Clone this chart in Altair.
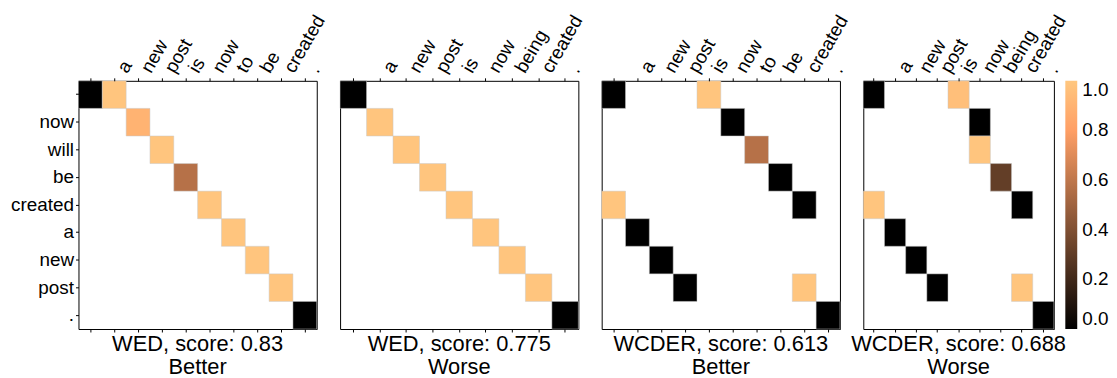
import altair as alt
import pandas as pd

# Tokens
ROWS = ["", "now", "will", "be", "created", "a", "new", "post", "."]
COLS_TO = ["", "a", "new", "post", "is", "now", "to", "be", "created", "."]
COLS_BEING = ["", "a", "new", "post", "is", "now", "being", "created", "."]

# Panel 1: WED, better
P1_R = [0, 0, 1, 2, 3, 4, 5, 6, 7, 8]
P1_C = [0, 1, 2, 3, 4, 5, 6, 7, 8, 9]
P1_V = [0.0, 0.99, 0.90, 0.99, 0.57, 0.99, 0.99, 0.99, 0.99, 0.0]

# Panel 2: WED, worse
P2_R = [0, 1, 2, 3, 4, 5, 6, 7, 8]
P2_C = [0, 1, 2, 3, 4, 5, 6, 7, 8]
P2_V = [0.0, 0.99, 0.99, 0.99, 0.99, 0.99, 0.99, 0.99, 0.0]

# Panel 3: WCDER, better
P3_R = [0, 0, 1, 2, 3, 4, 4, 5, 6, 7, 7, 8]
P3_C = [0, 4, 5, 6, 7, 8, 0, 1, 2, 3, 8, 9]
P3_V = [0.0, 0.99, 0.0, 0.57, 0.0, 0.0, 0.99, 0.0, 0.0, 0.0, 0.99, 0.0]

# Panel 4: WCDER, worse
P4_R = [0, 0, 1, 2, 3, 4, 4, 5, 6, 7, 7, 8]
P4_C = [0, 4, 5, 5, 6, 7, 0, 1, 2, 3, 7, 8]
P4_V = [0.0, 0.96, 0.0, 0.99, 0.31, 0.0, 0.99, 0.0, 0.0, 0.0, 0.99, 0.0]

TITLES = [
    ["WED, score: 0.83", "Better"],
    ["WED, score: 0.775", "Worse"],
    ["WCDER, score: 0.613", "Better"],
    ["WCDER, score: 0.688", "Worse"],
]

LEGEND_VALUES = [0.0, 0.2, 0.4, 0.6, 0.8, 1.0]

FONT = "Liberation Sans"

cscale = alt.Scale(domain=[0, 0.8, 1], range=["#000000", "#ff9f65", "#ffc77f"], interpolate="rgb")
legend = alt.Legend(
    orient="none", legendX=994, legendY=0, values=LEGEND_VALUES, format=".1f",
    gradientLength=250, gradientThickness=12, labelFontSize=19, labelColor="black",
    labelBaseline="middle", labelOffset=5, title=None, direction="vertical",
    labelFont=FONT,
)


def panel(ri, ci, vals, cols, title, width, show_y):
    df = pd.DataFrame({
        "row": [ROWS[i] for i in ri],
        "col": [cols[j] for j in ci],
        "v": vals,
    })
    xs = alt.Scale(domain=cols, paddingInner=0, paddingOuter=0)
    ys = alt.Scale(domain=ROWS, paddingInner=0, paddingOuter=0)
    if show_y:
        yaxis = alt.Axis(orient="left", labelFontSize=19, tickSize=3, tickColor="black",
                         labelColor="black", domain=False, title=None, labelPadding=2,
                         labelOverlap=False, labelFont=FONT)
    else:
        yaxis = None
    top = alt.Chart(df).mark_rect(stroke="#c8c8c8", strokeWidth=0.5).encode(
        x=alt.X("col:N", scale=xs, axis=alt.Axis(
            orient="top", labelAngle=300, labelAlign="left", labelBaseline="alphabetic",
            labelOffset=13, labelPadding=4, labelFontSize=19, labelColor="black",
            tickSize=3, tickColor="black", domain=False, title=None, labelOverlap=False,
            labelFont=FONT)),
        y=alt.Y("row:N", scale=ys, axis=yaxis),
        color=alt.Color("v:Q", scale=cscale, legend=legend),
    )
    bottom = alt.Chart(df).mark_rect(opacity=0).encode(
        x=alt.X("col:N", scale=xs, axis=alt.Axis(
            orient="bottom", labels=False, tickSize=3, tickColor="black",
            domain=False, title=None)),
        y=alt.Y("row:N", scale=ys, axis=yaxis),
    )
    return alt.layer(top, bottom).resolve_axis(x="independent").properties(
        width=width, height=250,
        title=alt.TitleParams(title, orient="bottom", frame="group", fontSize=22,
                              offset=2, lineHeight=23, fontWeight="normal",
                              color="black", font=FONT),
    )


p1 = panel(P1_R, P1_C, P1_V, COLS_TO, TITLES[0], 240, True)
p2 = panel(P2_R, P2_C, P2_V, COLS_BEING, TITLES[1], 240, False)
p3 = panel(P3_R, P3_C, P3_V, COLS_TO, TITLES[2], 240, False)
p4 = panel(P4_R, P4_C, P4_V, COLS_BEING, TITLES[3], 192, False)

chart = alt.hconcat(p1, p2, p3, p4, spacing=23.5, bounds="flush").resolve_scale(
    x="independent", y="independent", color="shared"
).properties(
    padding={"left": 2, "top": 2, "right": 0, "bottom": 0}
).configure(
    font=FONT
).configure_view(
    stroke="black", strokeWidth=1
)

chart.save("out.html", embed_options={"renderer": "svg", "actions": False})
